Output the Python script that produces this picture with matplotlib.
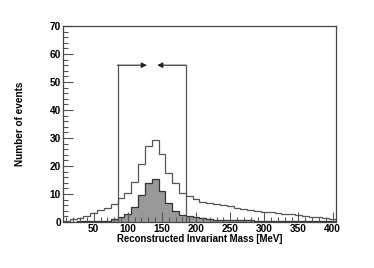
import numpy as np
from matplotlib import pyplot as plt
from matplotlib.ticker import MultipleLocator

BIN_EDGES = np.arange(5, 406, 10)
CUT_LO = 85
CUT_HI = 185
CUT_HEIGHT = 56

# all candidates (open histogram)
all_counts = [0.4, 1.0, 1.3, 2.2, 3.3, 4.3, 5.1, 6.3, 8.5, 10.2,
              14.2, 20.6, 27.0, 29.3, 24.2, 17.6, 14.0, 10.5, 9.4, 8.1,
              7.3, 6.7, 6.4, 6.1, 5.8, 4.9, 4.6, 4.2, 4.0, 3.7,
              3.5, 3.1, 2.9, 2.8, 2.5, 2.3, 1.9, 1.7, 1.6, 1.1]
# signal (filled histogram)
signal_counts = [0.1, 0.1, 0.2, 0.3, 0.3, 0.5, 0.5, 1.0, 1.8, 2.7,
                 5.5, 9.8, 14.0, 15.2, 11.0, 6.9, 4.0, 2.6, 2.3, 1.7,
                 1.3, 1.0, 0.8, 0.8, 0.7, 0.7, 0.6, 0.6, 0.5, 0.5,
                 0.4, 0.4, 0.4, 0.3, 0.3, 0.3, 0.3, 0.2, 0.2, 0.2]

plt.rcParams['font.family'] = ['Liberation Sans', 'DejaVu Sans']

fig = plt.figure(figsize=(3.74, 2.68), dpi=100)
ax = fig.add_axes([0.1684, 0.1716, 0.73, 0.7314])

ax.stairs(signal_counts, BIN_EDGES, fill=True, color='#999999')
ax.stairs(signal_counts, BIN_EDGES, color='#333333', lw=0.9)
ax.stairs(all_counts, BIN_EDGES, color='#555555', lw=0.9)

# mass window cuts
ax.plot([CUT_LO, CUT_LO], [0, CUT_HEIGHT], color='#555555', lw=0.9)
ax.plot([CUT_HI, CUT_HI], [0, CUT_HEIGHT], color='#555555', lw=0.9)
ax.annotate('', xy=(128, CUT_HEIGHT), xytext=(CUT_LO, CUT_HEIGHT),
            arrowprops=dict(arrowstyle='-|>', color='#222222', lw=0.8,
                            mutation_scale=8, shrinkA=0, shrinkB=0))
ax.annotate('', xy=(143, CUT_HEIGHT), xytext=(CUT_HI, CUT_HEIGHT),
            arrowprops=dict(arrowstyle='-|>', color='#222222', lw=0.8,
                            mutation_scale=8, shrinkA=0, shrinkB=0))

ax.set_xlim(5, 405)
ax.set_ylim(0, 70)
ax.xaxis.set_major_locator(MultipleLocator(50))
ax.xaxis.set_minor_locator(MultipleLocator(10))
ax.yaxis.set_major_locator(MultipleLocator(10))
ax.yaxis.set_minor_locator(MultipleLocator(2))
ax.tick_params(which='both', direction='in', color='#555555', width=0.8)
ax.tick_params(which='major', length=7, labelsize=7.3, pad=1.5)
ax.tick_params(which='minor', length=3.5)
for lab in ax.get_xticklabels() + ax.get_yticklabels():
    lab.set_fontweight('bold')
for s in ax.spines.values():
    s.set_color('#444444')
    s.set_linewidth(0.9)

ax.set_xlabel('Reconstructed Invariant Mass [MeV]', fontsize=6.9,
              fontweight='bold', labelpad=0)
ax.set_ylabel('Number of events', fontsize=7.2, fontweight='bold',
              labelpad=18)

fig.savefig('out.png', dpi=100)
